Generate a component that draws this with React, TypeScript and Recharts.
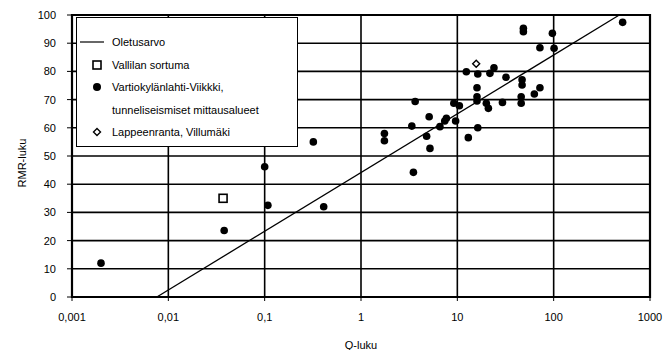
import React from 'react'
import {
  ScatterChart, Scatter, XAxis, YAxis, CartesianGrid, ReferenceArea, Legend,
} from 'recharts'

// Oletusarvo: the reference line, read at both ends
const oletusarvo = [
  { q: 0.0076, rmr: 0 },
  { q: 480, rmr: 100 },
]

const vallila = [{ q: 0.037, rmr: 35 }]

const lappeenranta = [{ q: 15.7, rmr: 82.7 }]

const vartiokylanlahti = [
  { q: 0.002, rmr: 12 },
  { q: 0.038, rmr: 23.6 },
  { q: 0.1, rmr: 46.2 },
  { q: 0.108, rmr: 32.5 },
  { q: 0.32, rmr: 55 },
  { q: 0.41, rmr: 32 },
  { q: 1.75, rmr: 58 },
  { q: 1.75, rmr: 55.4 },
  { q: 3.37, rmr: 60.6 },
  { q: 3.5, rmr: 44.2 },
  { q: 3.65, rmr: 69.3 },
  { q: 4.8, rmr: 57 },
  { q: 5.1, rmr: 63.9 },
  { q: 5.2, rmr: 52.7 },
  { q: 6.6, rmr: 60.4 },
  { q: 7.4, rmr: 62.4 },
  { q: 7.7, rmr: 63.4 },
  { q: 9.2, rmr: 68.7 },
  { q: 9.6, rmr: 62.4 },
  { q: 10.5, rmr: 67.8 },
  { q: 12.4, rmr: 79.9 },
  { q: 13, rmr: 56.5 },
  { q: 16, rmr: 74.2 },
  { q: 16, rmr: 71 },
  { q: 16, rmr: 69.5 },
  { q: 16.3, rmr: 79.1 },
  { q: 16.3, rmr: 60 },
  { q: 20, rmr: 68.7 },
  { q: 21, rmr: 66.9 },
  { q: 21.8, rmr: 79.3 },
  { q: 24, rmr: 81.3 },
  { q: 29.4, rmr: 69 },
  { q: 32, rmr: 77.9 },
  { q: 46, rmr: 71 },
  { q: 46, rmr: 68.7 },
  { q: 47, rmr: 77 },
  { q: 47, rmr: 75.2 },
  { q: 48.5, rmr: 95.3 },
  { q: 48.5, rmr: 94.1 },
  { q: 63, rmr: 72 },
  { q: 72, rmr: 88.4 },
  { q: 72, rmr: 74.2 },
  { q: 97, rmr: 93.5 },
  { q: 101, rmr: 88.2 },
  { q: 520, rmr: 97.4 },
]

const xTicks = [0.001, 0.01, 0.1, 1, 10, 100, 1000]
const yTicks = [0, 10, 20, 30, 40, 50, 60, 70, 80, 90, 100]

const legendRows = [
  { mark: 'line', text: 'Oletusarvo' },
  { mark: 'square', text: 'Vallilan sortuma' },
  { mark: 'dot', text: 'Vartiokylänlahti-Viikkki,' },
  { mark: 'none', text: 'tunneliseismiset mittausalueet' },
  { mark: 'diamond', text: 'Lappeenranta, Villumäki' },
]

const FONT = '"Liberation Sans", Arial, sans-serif'

const Dot = (p: any) => <circle cx={p.cx} cy={p.cy} r={3.8} fill="#000" />
const Square = (p: any) => (
  <rect x={p.cx - 4} y={p.cy - 4} width={8} height={8} fill="#fff" stroke="#000" strokeWidth={1.6} />
)
const Diamond = (p: any) => (
  <path d={`M${p.cx},${p.cy - 3.5}L${p.cx + 3.5},${p.cy}L${p.cx},${p.cy + 3.5}L${p.cx - 3.5},${p.cy}Z`}
    fill="#fff" stroke="#000" strokeWidth={1.4} />
)
const NoShape = () => null

function LegendMark({ mark }: { mark: string }) {
  return (
    <svg width={26} height={12} style={{ display: 'block' }}>
      {mark === 'line' && <line x1={0} y1={6} x2={24} y2={6} stroke="#000" strokeWidth={1.2} />}
      {mark === 'square' && <rect x={13} y={2} width={8} height={8} fill="#fff" stroke="#000" strokeWidth={1.6} />}
      {mark === 'dot' && <circle cx={17} cy={6} r={4} fill="#000" />}
      {mark === 'diamond' && <path d="M17,2.5L20.5,6L17,9.5L13.5,6Z" fill="#fff" stroke="#000" strokeWidth={1.4} />}
    </svg>
  )
}

function LegendBox() {
  return (
    <div style={{
      width: 222, height: 130, background: '#fff', border: '1.5px solid #000',
      boxSizing: 'border-box', padding: '13px 0 0 3px', fontFamily: FONT, fontSize: 11, color: '#000',
    }}>
      {legendRows.map(r => (
        <div key={r.text} style={{ display: 'flex', alignItems: 'center', height: 22.5 }}>
          <LegendMark mark={r.mark} />
          <span style={{ marginLeft: 6 }}>{r.text}</span>
        </div>
      ))}
    </div>
  )
}

const fmt = (v: number) => String(v).replace('.', ',')

export default function App() {
  return (
    <div style={{ position: 'absolute', left: 0, top: 0, background: '#fff' }}>
      <ScatterChart width={669} height={350} margin={{ top: 15, right: 19, bottom: 0, left: 0 }}>
        <CartesianGrid stroke="#000" strokeWidth={1.6} />
        <XAxis type="number" dataKey="q" scale="log" domain={[0.001, 1000]} ticks={xTicks}
          allowDataOverflow tickFormatter={fmt} height={53} tickSize={4} tickMargin={12}
          axisLine={{ stroke: '#000', strokeWidth: 2 }} tickLine={{ stroke: '#000' }}
          tick={{ fill: '#000', fontSize: 11, fontFamily: FONT }}
          label={{ value: 'Q-luku', position: 'insideBottom', offset: 1, fill: '#000', fontSize: 11, fontFamily: FONT }} />
        <YAxis type="number" dataKey="rmr" domain={[0, 100]} ticks={yTicks} width={72}
          tickSize={5} tickMargin={11} axisLine={{ stroke: '#000', strokeWidth: 2 }} tickLine={{ stroke: '#000' }}
          tick={{ fill: '#000', fontSize: 11, fontFamily: FONT }}
          label={(props: any) => {
            const vb = props.viewBox
            const x = vb.x + 23
            const y = vb.y + vb.height / 2 + 7
            return (
              <text x={x} y={y} transform={`rotate(-90, ${x}, ${y})`} textAnchor="middle"
                dominantBaseline="middle" fill="#000" fontSize={11} fontFamily={FONT}>RMR-luku</text>
            )
          }} />
        <ReferenceArea x1={0.001} x2={1000} y1={0} y2={100} fill="none" stroke="#000" strokeWidth={2.2} />
        <Scatter name="Oletusarvo" data={oletusarvo} line={{ stroke: '#000', strokeWidth: 1.3 }}
          shape={NoShape} isAnimationActive={false} />
        <Scatter name="Vartiokylänlahti-Viikkki" data={vartiokylanlahti} shape={Dot} isAnimationActive={false} />
        <Scatter name="Vallilan sortuma" data={vallila} shape={Square} isAnimationActive={false} />
        <Scatter name="Lappeenranta, Villumäki" data={lappeenranta} shape={Diamond} isAnimationActive={false} />
        <Legend layout="vertical" align="center" verticalAlign="middle" content={() => <LegendBox />}
          wrapperStyle={{ left: 76, top: 17, width: 222, height: 130 }} />
      </ScatterChart>
    </div>
  )
}
